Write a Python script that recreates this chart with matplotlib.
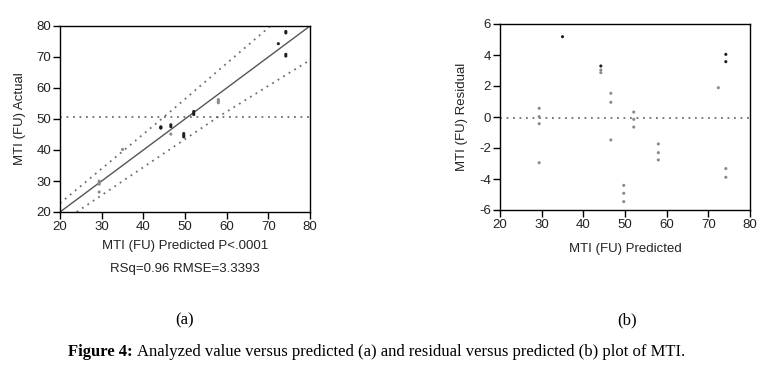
import numpy as np
import matplotlib
matplotlib.use("Agg")
import matplotlib.pyplot as plt

plt.rcParams['font.family'] = ['Liberation Sans', 'DejaVu Sans']
plt.rcParams['axes.unicode_minus'] = False

# predicted, actual and residual values
predicted = [29.4, 29.4, 29.4, 29.4, 35.0, 44.2, 44.2, 44.2, 46.6, 46.6, 46.6, 49.7, 49.7,
             49.7, 52.1, 52.1, 52.1, 58.0, 58.0, 58.0, 72.4, 74.2, 74.2, 74.2, 74.2]
actual = [29.96, 29.42, 28.97, 26.45, 40.18, 47.49, 47.23, 47.06, 48.13, 47.55, 45.12, 45.29, 44.78,
          44.24, 52.42, 51.95, 51.45, 56.26, 55.70, 55.23, 74.29, 78.24, 77.77, 70.87, 70.31]
residual = [0.56, 0.02, -0.43, -2.95, 5.18, 3.29, 3.03, 2.86, 1.53, 0.95, -1.48, -4.41, -4.92,
            -5.46, 0.32, -0.15, -0.65, -1.74, -2.30, -2.77, 1.89, 4.04, 3.57, -3.33, -3.89]
# 1 = dark point, 0 = grey point
dark_a = [0, 0, 0, 0, 0, 1, 1, 1, 1, 1, 0, 1, 1, 1, 1, 1, 1, 0, 0, 0, 1, 1, 1, 1, 1]
dark_b = [0, 0, 0, 0, 1, 1, 0, 0, 0, 0, 0, 0, 0, 0, 0, 0, 0, 0, 0, 0, 0, 1, 1, 0, 0]

fit_x = [20, 80]
fit_y = [20, 80]
upper_x = [20, 45, 70.5]
upper_y = [22.8, 50.7, 80]
lower_x = [24, 58, 80]
lower_y = [20, 50.7, 69]
mean_actual = 50.6
resid_zero = -0.05

W, H = 772, 376
fig = plt.figure(figsize=(W / 100, H / 100), dpi=100)

def px_axes(l, t, r, b):
    return fig.add_axes([l / W, 1 - b / H, (r - l) / W, (b - t) / H])

ax1 = px_axes(60, 26, 310, 212)
ax2 = px_axes(500, 24, 750, 210)

cols_a = ['#1e1e1e' if d else '#8a8a8a' for d in dark_a]
cols_b = ['#1e1e1e' if d else '#8a8a8a' for d in dark_b]

dot = dict(color='#6e6e6e', lw=1.3, linestyle=(0, (1, 2.6)))

ax1.plot(fit_x, fit_y, color='#555555', lw=1.0)
ax1.plot(upper_x, upper_y, **dot)
ax1.plot(lower_x, lower_y, **dot)
ax1.axhline(mean_actual, **dot)
ax1.scatter(predicted, actual, s=5, c=cols_a, marker='o', linewidths=0, zorder=3)
ax1.set_xlim(20, 80)
ax1.set_ylim(20, 80)
ax1.set_xticks(range(20, 81, 10))
ax1.set_yticks(range(20, 81, 10))

ax2.axhline(resid_zero, **dot)
ax2.scatter(predicted, residual, s=5, c=cols_b, marker='o', linewidths=0, zorder=3)
ax2.set_xlim(20, 80)
ax2.set_ylim(-6, 6)
ax2.set_xticks(range(20, 81, 10))
ax2.set_yticks(range(-6, 7, 2))

for ax in (ax1, ax2):
    for s in ax.spines.values():
        s.set_linewidth(1.0)
        s.set_color('black')
    ax.tick_params(direction='out', length=5, width=1, labelsize=9.5,
                   labelcolor='#222222', pad=1.5)

lab = dict(fontsize=9.5, color='#222222', ha='center', va='center')
fig.text(20 / W, 1 - 119 / H, 'MTI (FU) Actual', rotation=90, **lab)
fig.text(185 / W, 1 - 246 / H, 'MTI (FU) Predicted P<.0001', **lab)
fig.text(185 / W, 1 - 269 / H, 'RSq=0.96 RMSE=3.3393', **lab)
fig.text(462 / W, 1 - 117 / H, 'MTI (FU) Residual', rotation=90, **lab)
fig.text(625 / W, 1 - 249 / H, 'MTI (FU) Predicted', **lab)

serif = ['Liberation Serif', 'DejaVu Serif']
fig.text(185 / W, 1 - 320 / H, '(a)', fontsize=12, family=serif, ha='center', va='center')
fig.text(627 / W, 1 - 320 / H, '(b)', fontsize=12, family=serif, ha='center', va='center')

t1 = fig.text(68 / W, 1 - 352 / H, 'Figure 4:', fontsize=12, family=serif,
              fontweight='bold', ha='left', va='center')
fig.canvas.draw()
bb = t1.get_window_extent()
fig.text((bb.x1 + 4) / W, 1 - 352 / H,
         'Analyzed value versus predicted (a) and residual versus predicted (b) plot of MTI.',
         fontsize=12, family=serif, ha='left', va='center')

fig.savefig('out.png', dpi=100)
